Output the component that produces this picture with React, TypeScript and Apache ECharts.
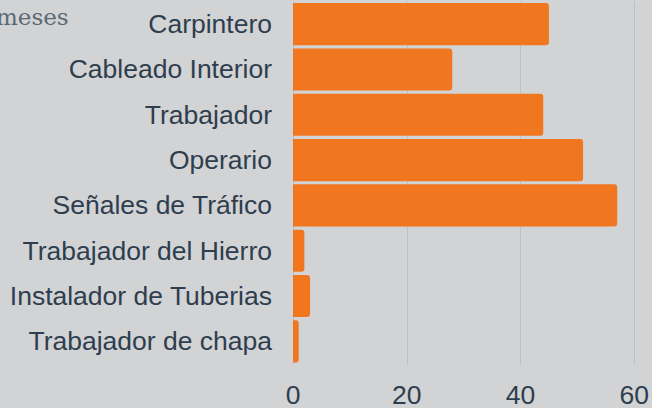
import React, { useEffect, useRef } from "react";
import * as echarts from "echarts";

const categories = [
  "Carpintero",
  "Cableado Interior",
  "Trabajador",
  "Operario",
  "Señales de Tráfico",
  "Trabajador del Hierro",
  "Instalador de Tuberias",
  "Trabajador de chapa",
];
const values = [45, 28, 44, 51, 57, 2, 3, 1];
const xTicks = [0, 20, 40, 60];

export default function App() {
  const ref = useRef<HTMLDivElement>(null);
  useEffect(() => {
    document.body.style.margin = "0";
    const chart = echarts.init(ref.current!, null, { renderer: "svg" });
    chart.setOption({
      animation: false,
      backgroundColor: "#d2d3d5",
      grid: { left: 293, right: 16, top: 1.5, bottom: 40, containLabel: false },
      xAxis: {
        type: "value",
        min: xTicks[0],
        max: xTicks[xTicks.length - 1],
        interval: 20,
        axisLine: { show: false },
        axisTick: { show: false },
        splitLine: { show: true, lineStyle: { color: "#bdbfc2", width: 1 } },
        axisLabel: {
          color: "#2f3e4e",
          fontSize: 26.5,
          fontFamily: "Liberation Sans",
          margin: 17,
        },
      },
      yAxis: {
        type: "category",
        data: categories,
        inverse: true,
        axisLine: { show: false },
        axisTick: { show: false },
        axisLabel: {
          color: "#2f3e4e",
          fontSize: 26.5,
          fontFamily: "Liberation Sans",
          margin: 21,
        },
      },
      series: [
        {
          type: "bar",
          data: values,
          barCategoryGap: "7%",
          itemStyle: { color: "#f07720", borderRadius: [0, 3, 3, 0] },
        },
      ],
      graphic: [
        {
          type: "text",
          left: -4,
          top: 5,
          style: {
            text: "meses",
            fill: "#5b6876",
            fontSize: 23,
            fontFamily: "DejaVu Serif",
          },
        },
      ],
    });
    return () => chart.dispose();
  }, []);
  return <div ref={ref} style={{ width: 652, height: 408 }} />;
}
